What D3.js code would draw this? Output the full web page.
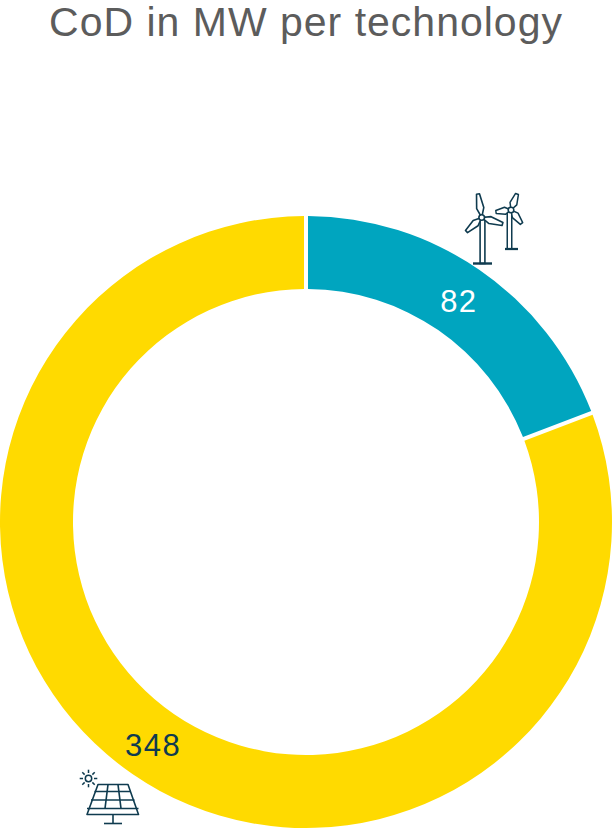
<!DOCTYPE html>
<html>
<head>
<meta charset="utf-8">
<script src="https://cdn.jsdelivr.net/npm/d3@7"></script>
<style>
html, body { margin: 0; padding: 0; background: #fff; }
svg { display: block; }
</style>
</head>
<body>
<div id="plot"></div>
<script>
var categories = ["Wind", "Solar"];
var values = [82, 348];
var colors = ["#00A5BF", "#FFDA00"];
var labelColors = ["#ffffff", "#0F3B4F"];
var iconColor = "#0F3B4F";

var width = 615, height = 835;
var cx = 306, cy = 522, outerR = 306, innerR = 233;

var svg = d3.select("div#plot")
  .append("svg")
    .attr("width", width)
    .attr("height", height);

svg.append("text")
    .attr("x", 306)
    .attr("y", 36)
    .attr("text-anchor", "middle")
    .style("font-family", "'Liberation Sans', sans-serif")
    .style("font-size", "41px")
    .style("letter-spacing", "1px")
    .style("fill", "#5C5C5C")
    .text("CoD in MW per technology");

var pie = d3.pie().sort(null).value(d => d.value).padAngle(4 / outerR);
var arc = d3.arc().innerRadius(innerR).outerRadius(outerR).padRadius(outerR);

var data = categories.map((c, i) => ({ name: c, value: values[i], color: colors[i], label: labelColors[i] }));

var g = svg.append("g").attr("transform", `translate(${cx},${cy})`);

g.selectAll("path")
  .data(pie(data))
  .join("path")
    .attr("d", arc)
    .attr("fill", d => d.data.color);

g.selectAll("text")
  .data(pie(data))
  .join("text")
    .attr("transform", d => `translate(${arc.centroid(d)})`)
    .attr("text-anchor", "middle")
    .attr("dy", "0.38em")
    .style("font-family", "'Liberation Sans', sans-serif")
    .style("font-size", "31px")
    .style("letter-spacing", "1.5px")
    .style("fill", d => d.data.label)
    .text(d => d.data.value);

// icons
function turbine(hub, towerX, tips, baseY, baseL, baseR, sw) {
    var t = svg.append("g");
    // tower
    t.append("rect")
        .attr("x", towerX - sw * 1.5)
        .attr("y", hub[1])
        .attr("width", sw * 3)
        .attr("height", baseY - hub[1])
        .attr("fill", "#fff")
        .attr("stroke", iconColor)
        .attr("stroke-width", sw);
    t.append("line")
        .attr("x1", baseL).attr("x2", baseR)
        .attr("y1", baseY).attr("y2", baseY)
        .attr("stroke", iconColor)
        .attr("stroke-width", sw * 1.5);
    // blades
    tips.forEach(function(tip) {
        var dx = tip[0] - hub[0], dy = tip[1] - hub[1];
        var len = Math.sqrt(dx * dx + dy * dy);
        var nx = -dy / len, ny = dx / len;
        var w = 3.6;
        var mx = hub[0] + dx * 0.4, my = hub[1] + dy * 0.4;
        var p = d3.path();
        p.moveTo(hub[0], hub[1]);
        p.lineTo(mx + nx * w, my + ny * w);
        p.lineTo(tip[0] + nx * 1.5, tip[1] + ny * 1.5);
        p.lineTo(tip[0] - nx * 1.5, tip[1] - ny * 1.5);
        p.lineTo(mx - nx * w, my - ny * w);
        p.closePath();
        t.append("path")
            .attr("d", p.toString())
            .attr("fill", "#fff")
            .attr("stroke", iconColor)
            .attr("stroke-width", sw)
            .attr("stroke-linejoin", "round");
    });
    t.append("circle")
        .attr("cx", hub[0]).attr("cy", hub[1]).attr("r", 2.8)
        .attr("fill", "#fff")
        .attr("stroke", iconColor)
        .attr("stroke-width", sw);
}

turbine([511, 210], 509.5, [[517, 194], [496, 212], [521.5, 223.5]], 249, 505, 518, 1.5);
turbine([481.7, 217.5], 482.5, [[478, 194], [502.5, 224], [466.5, 231.5]], 263.5, 473, 492, 1.6);

function solar() {
    var s = svg.append("g");
    var line = (x1, y1, x2, y2, w) => s.append("line")
        .attr("x1", x1).attr("y1", y1).attr("x2", x2).attr("y2", y2)
        .attr("stroke", iconColor).attr("stroke-width", w || 1.6);
    s.append("path")
        .attr("d", "M98,784.5L128,784.5L138.5,814.5L87,814.5Z")
        .attr("fill", "#fff")
        .attr("stroke", iconColor)
        .attr("stroke-width", 1.6)
        .attr("stroke-linejoin", "round");
    line(87, 808.5, 138.5, 808.5);
    line(94.5, 791.5, 131, 791.5);
    line(91, 800, 134.5, 800);
    line(108, 784.5, 105, 808.5);
    line(118, 784.5, 121, 808.5);
    line(113, 814.5, 113, 823);
    line(104, 823.5, 122, 823.5);
    // sun
    s.append("circle").attr("cx", 88.5).attr("cy", 778.5).attr("r", 3.2)
        .attr("fill", "#fff").attr("stroke", iconColor).attr("stroke-width", 1.5);
    d3.range(8).forEach(function(i) {
        var a = i * Math.PI / 4;
        line(88.5 + Math.cos(a) * 5.5, 778.5 + Math.sin(a) * 5.5,
             88.5 + Math.cos(a) * 8.8, 778.5 + Math.sin(a) * 8.8, 1.5);
    });
}
solar();
</script>
</body>
</html>
